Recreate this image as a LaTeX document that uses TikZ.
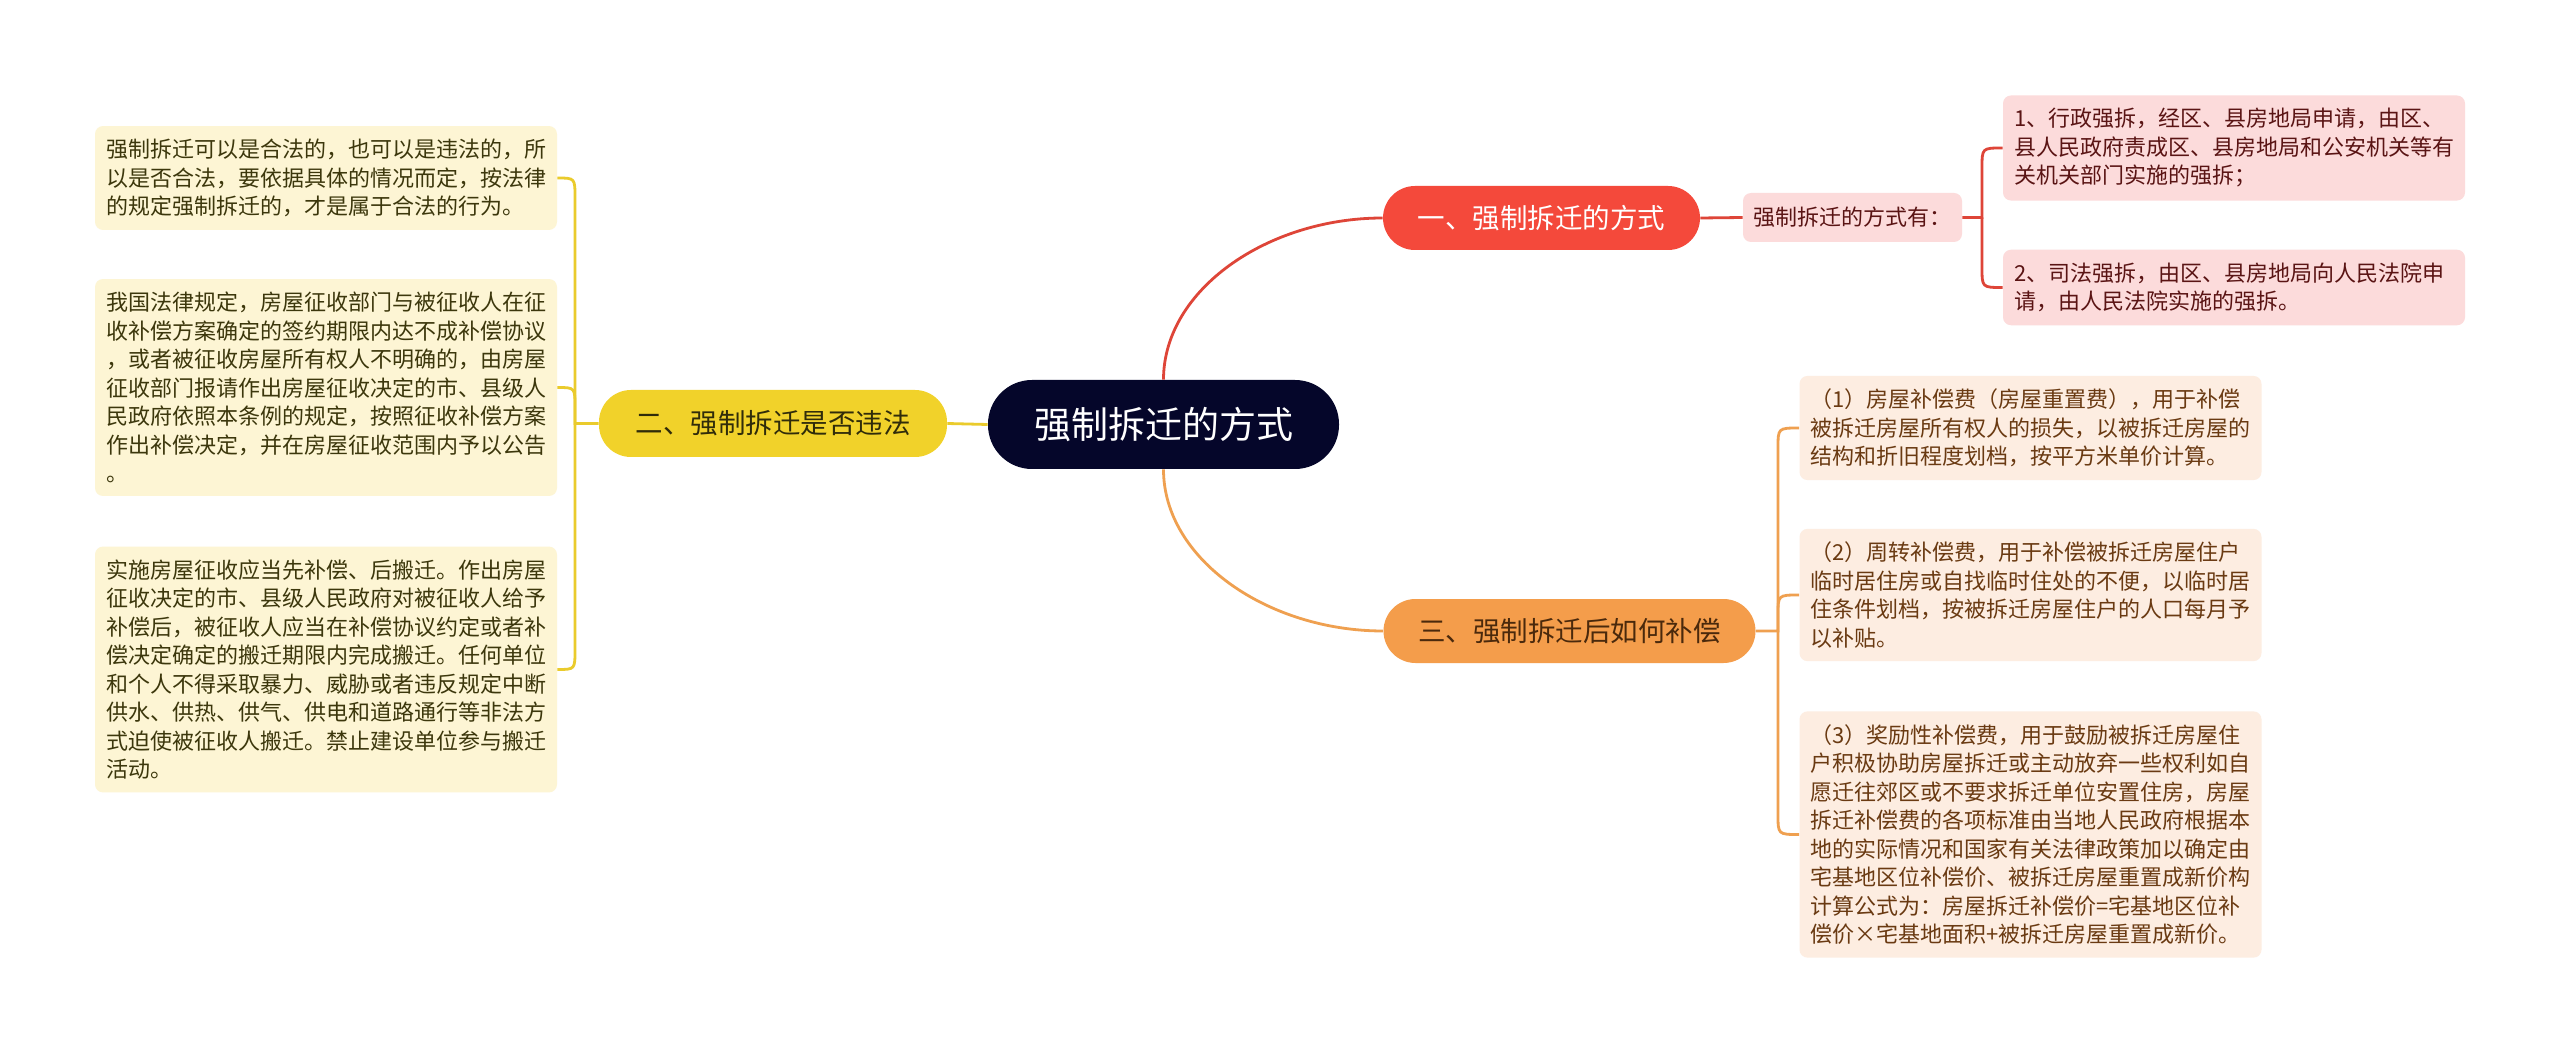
\documentclass[tikz,border=0pt]{standalone}
\usepackage{fontspec}
\setmainfont{Noto Sans CJK SC}
\usetikzlibrary{calc}
\definecolor{navy}{HTML}{05062A}
\definecolor{redb}{HTML}{F4493B}
\definecolor{redl}{HTML}{DE4538}
\definecolor{redf}{HTML}{FCDBDB}
\definecolor{redt}{HTML}{5A1414}
\definecolor{yelb}{HTML}{F1D22A}
\definecolor{yell}{HTML}{EACB2C}
\definecolor{yelf}{HTML}{FDF5D4}
\definecolor{yelt}{HTML}{3C370C}
\definecolor{orab}{HTML}{F49D4B}
\definecolor{oral}{HTML}{EFA050}
\definecolor{oraf}{HTML}{FDEDE1}
\definecolor{orat}{HTML}{6A3A12}
\begin{document}
\begin{tikzpicture}[x=0.5pt,y=-0.5pt,
  leaf/.style={rectangle, rounded corners=4pt, inner xsep=5.5pt, inner ysep=6.5pt,
    text width=220pt, align=left, font=\fontsize{11}{14.25}\selectfont},
  pill/.style={rectangle, rounded corners=16pt, inner sep=0pt,
    font=\fontsize{13.75}{16}\selectfont},
  rd/.style={draw=redl, line width=1.4pt},
  yl/.style={draw=yell, line width=1.4pt},
  og/.style={draw=oral, line width=1.4pt}]
\fill[white] (0,0) rectangle (2560,1053);
\useasboundingbox (0,0) rectangle (2560,1053);

% central
\node[rectangle, rounded corners=22pt, fill=navy, text=white, inner sep=0pt,
  minimum width=175.5pt, minimum height=44.5pt,
  font=\fontsize{18.5}{20}\selectfont] (c) at (1163.5,424.5) {强制拆迁的方式};

% branches
\node[pill, fill=redb, text=white, minimum width=158.5pt, minimum height=32pt] (b1) at (1541.5,218) {一、强制拆迁的方式};
\node[pill, fill=yelb, text=yelt!80!black, minimum width=174pt, minimum height=33.5pt] (b2) at (773,423.5) {二、强制拆迁是否违法};
\node[pill, fill=orab, text=orat!70!black, minimum width=186pt, minimum height=32pt] (b3) at (1569.5,631) {三、强制拆迁后如何补偿};

% branch 1 children
\node[rectangle, rounded corners=4pt, fill=redf, text=redt, inner sep=0pt,
  minimum width=109.5pt, minimum height=24.5pt,
  font=\fontsize{11}{13}\selectfont] (s1) at (1852.5,217.5) {强制拆迁的方式有：};
\node[leaf, fill=redf, text=redt] (r1) at (2234,148) {1、行政强拆，经区、县房地局申请，由区、\\县人民政府责成区、县房地局和公安机关等有\\关机关部门实施的强拆；};
\node[leaf, fill=redf, text=redt] (r2) at (2234,287.5) {2、司法强拆，由区、县房地局向人民法院申\\请，由人民法院实施的强拆。};

% branch 2 children
\node[leaf, fill=yelf, text=yelt] (la) at (326,178) {强制拆迁可以是合法的，也可以是违法的，所\\以是否合法，要依据具体的情况而定，按法律\\的规定强制拆迁的，才是属于合法的行为。};
\node[leaf, fill=yelf, text=yelt] (lb) at (326,387.5) {我国法律规定，房屋征收部门与被征收人在征\\收补偿方案确定的签约期限内达不成补偿协议\\，或者被征收房屋所有权人不明确的，由房屋\\征收部门报请作出房屋征收决定的市、县级人\\民政府依照本条例的规定，按照征收补偿方案\\作出补偿决定，并在房屋征收范围内予以公告\\。};
\node[leaf, fill=yelf, text=yelt] (lc) at (326,669.5) {实施房屋征收应当先补偿、后搬迁。作出房屋\\征收决定的市、县级人民政府对被征收人给予\\补偿后，被征收人应当在补偿协议约定或者补\\偿决定确定的搬迁期限内完成搬迁。任何单位\\和个人不得采取暴力、威胁或者违反规定中断\\供水、供热、供气、供电和道路通行等非法方\\式迫使被征收人搬迁。禁止建设单位参与搬迁\\活动。};

% branch 3 children
\node[leaf, fill=oraf, text=orat] (o1) at (2030.5,428) {（1）房屋补偿费（房屋重置费），用于补偿\\被拆迁房屋所有权人的损失，以被拆迁房屋的\\结构和折旧程度划档，按平方米单价计算。};
\node[leaf, fill=oraf, text=orat] (o2) at (2030.5,595) {（2）周转补偿费，用于补偿被拆迁房屋住户\\临时居住房或自找临时住处的不便，以临时居\\住条件划档，按被拆迁房屋住户的人口每月予\\以补贴。};
\node[leaf, fill=oraf, text=orat] (o3) at (2030.5,834.5) {（3）奖励性补偿费，用于鼓励被拆迁房屋住\\户积极协助房屋拆迁或主动放弃一些权利如自\\愿迁往郊区或不要求拆迁单位安置住房，房屋\\拆迁补偿费的各项标准由当地人民政府根据本\\地的实际情况和国家有关法律政策加以确定由\\宅基地区位补偿价、被拆迁房屋重置成新价构\\计算公式为：房屋拆迁补偿价=宅基地区位补\\偿价×宅基地面积+被拆迁房屋重置成新价。};

% connectors from central
\draw[rd] (c.north) .. controls +(0,-90) and +(-115,0) .. (b1.west);
\draw[og] (c.south) .. controls +(0,90) and +(-115,0) .. (b3.west);
\draw[yl] (c.west) -- (b2.east);

% red group
\draw[rd] (b1.east) -- (s1.west);
\coordinate (rv) at (1982,217.5);
\draw[rd] (s1.east) -- (rv) -- ($(rv |- r1.west)+(0,20)$) .. controls (rv |- r1.west) .. (r1.west);
\draw[rd] (rv) -- ($(rv |- r2.west)+(0,-20)$) .. controls (rv |- r2.west) .. (r2.west);

% yellow group
\coordinate (lv) at (575,423.5);
\draw[yl] (b2.west) -- (lv) -- ($(lv |- la.east)+(0,20)$) .. controls (lv |- la.east) .. (la.east);
\draw[yl] (lv) -- ($(lv |- lb.east)+(0,20)$) .. controls (lv |- lb.east) .. (lb.east);
\draw[yl] (lv) -- ($(lv |- lc.east)+(0,-20)$) .. controls (lv |- lc.east) .. (lc.east);

% orange group
\coordinate (ov) at (1778,631);
\draw[og] (b3.east) -- (ov) -- ($(ov |- o1.west)+(0,20)$) .. controls (ov |- o1.west) .. (o1.west);
\draw[og] (ov) -- ($(ov |- o2.west)+(0,20)$) .. controls (ov |- o2.west) .. (o2.west);
\draw[og] (ov) -- ($(ov |- o3.west)+(0,-20)$) .. controls (ov |- o3.west) .. (o3.west);
\end{tikzpicture}
\end{document}
